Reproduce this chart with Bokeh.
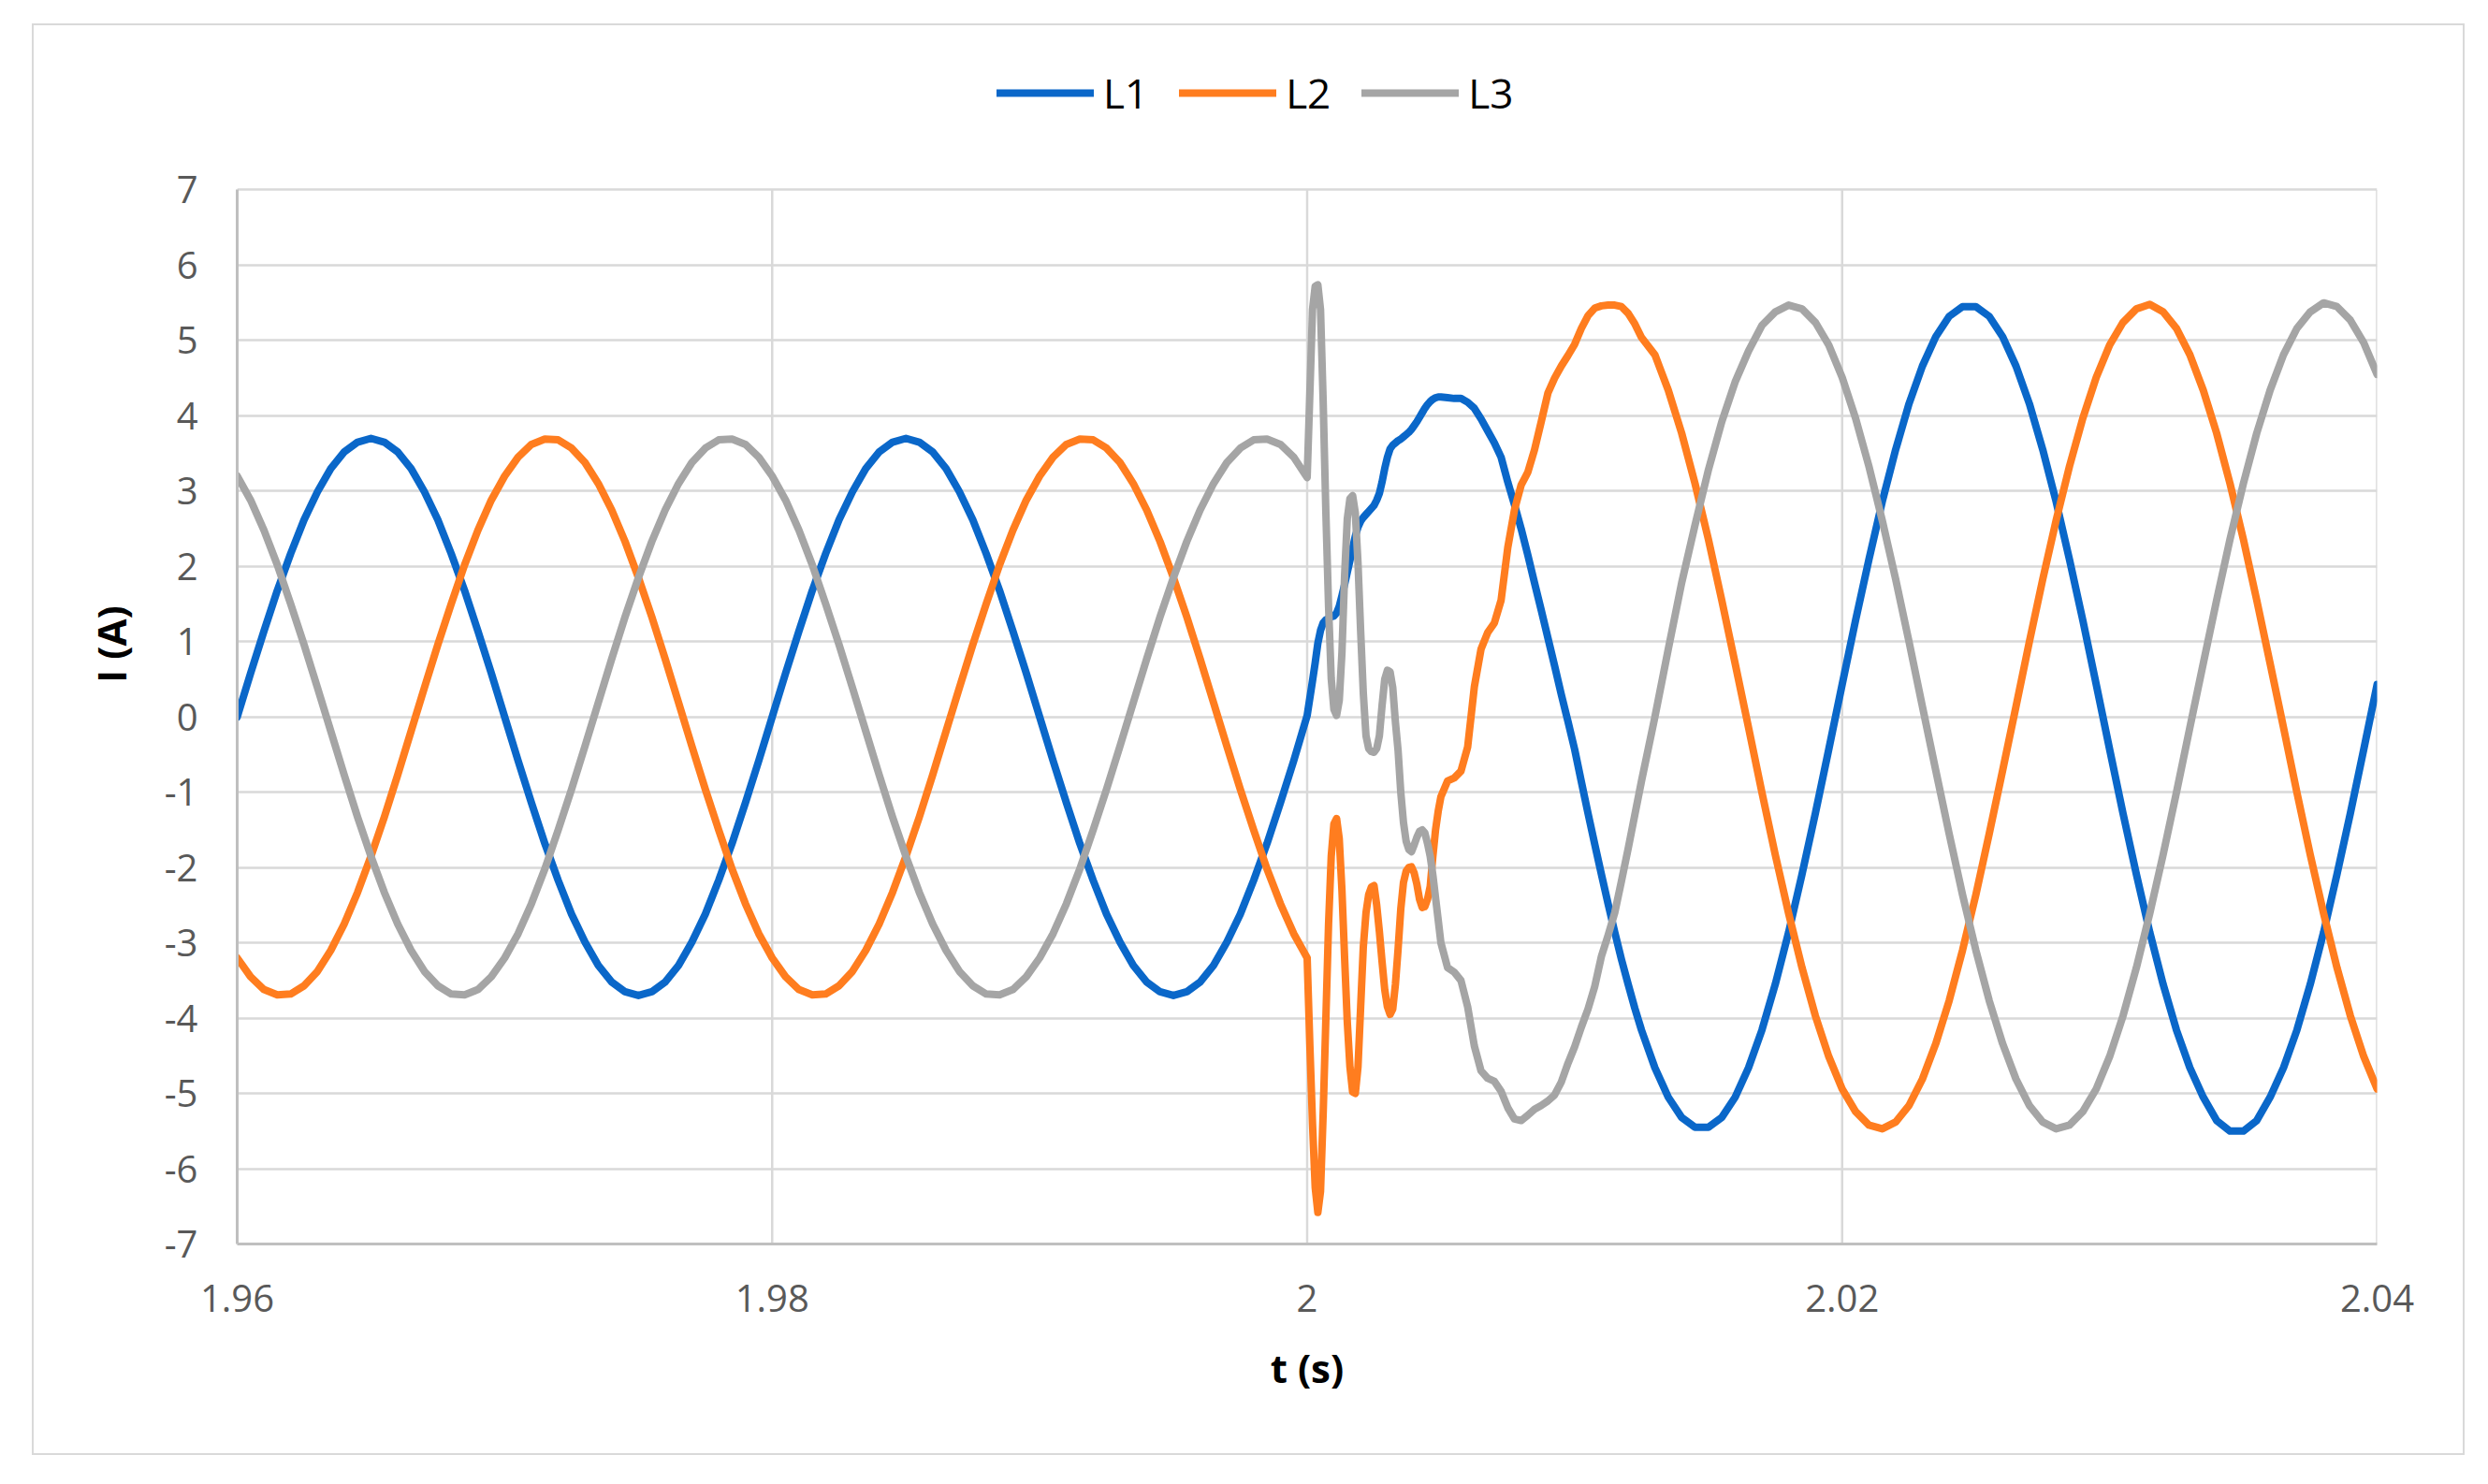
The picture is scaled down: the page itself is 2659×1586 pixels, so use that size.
from bokeh.plotting import figure
from bokeh.models import FixedTicker, Legend, LegendItem, Spacer, ColumnDataSource
from bokeh.layouts import column, row
from bokeh.embed import file_html
from bokeh.resources import INLINE

# ---------------- data ----------------
# time samples, seconds
t_pre = [1.96, 1.9605, 1.961, 1.9615, 1.962, 1.9625, 1.963, 1.9635, 1.964, 1.9645,
         1.965, 1.9655, 1.966, 1.9665, 1.967, 1.9675, 1.968, 1.9685, 1.969, 1.9695,
         1.97, 1.9705, 1.971, 1.9715, 1.972, 1.9725, 1.973, 1.9735, 1.974, 1.9745,
         1.975, 1.9755, 1.976, 1.9765, 1.977, 1.9775, 1.978, 1.9785, 1.979, 1.9795,
         1.98, 1.9805, 1.981, 1.9815, 1.982, 1.9825, 1.983, 1.9835, 1.984, 1.9845,
         1.985, 1.9855, 1.986, 1.9865, 1.987, 1.9875, 1.988, 1.9885, 1.989, 1.9895,
         1.99, 1.9905, 1.991, 1.9915, 1.992, 1.9925, 1.993, 1.9935, 1.994, 1.9945,
         1.995, 1.9955, 1.996, 1.9965, 1.997, 1.9975, 1.998, 1.9985, 1.999, 1.9995,
         2.0]
t_fault = [2.0001, 2.0002, 2.0003, 2.0004, 2.0005, 2.0006, 2.0007, 2.0008, 2.0009, 2.001,
           2.0011, 2.0012, 2.0013, 2.0014, 2.0015, 2.0016, 2.0017, 2.0018, 2.0019, 2.002,
           2.0021, 2.0022, 2.0023, 2.0024, 2.0025, 2.0026, 2.0027, 2.0028, 2.0029, 2.003,
           2.0031, 2.0032, 2.0033, 2.0034, 2.0035, 2.0036, 2.0037, 2.0038, 2.0039, 2.004,
           2.0041, 2.0042, 2.0043, 2.0044, 2.0045, 2.0046, 2.0047, 2.0048, 2.0049, 2.005]
t_settle = [2.00525, 2.0055, 2.00575, 2.006, 2.00625, 2.0065, 2.00675, 2.007, 2.00725, 2.0075,
            2.00775, 2.008, 2.00825, 2.0085, 2.00875, 2.009, 2.00925, 2.0095, 2.00975, 2.01,
            2.01025, 2.0105, 2.01075, 2.011, 2.01125, 2.0115, 2.01175, 2.012, 2.01225, 2.0125]
t_post = [2.013, 2.0135, 2.014, 2.0145, 2.015, 2.0155, 2.016, 2.0165, 2.017, 2.0175,
          2.018, 2.0185, 2.019, 2.0195, 2.02, 2.0205, 2.021, 2.0215, 2.022, 2.0225,
          2.023, 2.0235, 2.024, 2.0245, 2.025, 2.0255, 2.026, 2.0265, 2.027, 2.0275,
          2.028, 2.0285, 2.029, 2.0295, 2.03, 2.0305, 2.031, 2.0315, 2.032, 2.0325,
          2.033, 2.0335, 2.034, 2.0345, 2.035, 2.0355, 2.036, 2.0365, 2.037, 2.0375,
          2.038, 2.0385, 2.039, 2.0395, 2.04]

# phase currents, A
l1_pre = [0, 0.58, 1.14, 1.68, 2.17, 2.62, 2.99, 3.30, 3.52, 3.65,
          3.70, 3.65, 3.52, 3.30, 2.99, 2.62, 2.17, 1.68, 1.14, 0.58,
          0, -0.58, -1.14, -1.68, -2.17, -2.62, -2.99, -3.30, -3.52, -3.65,
          -3.70, -3.65, -3.52, -3.30, -2.99, -2.62, -2.17, -1.68, -1.14, -0.58,
          0, 0.58, 1.14, 1.68, 2.17, 2.62, 2.99, 3.30, 3.52, 3.65,
          3.70, 3.65, 3.52, 3.30, 2.99, 2.62, 2.17, 1.68, 1.14, 0.58,
          0, -0.58, -1.14, -1.68, -2.17, -2.62, -2.99, -3.30, -3.52, -3.65,
          -3.70, -3.65, -3.52, -3.30, -2.99, -2.62, -2.17, -1.68, -1.14, -0.58,
          0.02]
l2_pre = [-3.20, -3.45, -3.62, -3.69, -3.68, -3.57, -3.38, -3.10, -2.75, -2.33,
          -1.85, -1.33, -0.77, -0.19, 0.39, 0.96, 1.50, 2.02, 2.48, 2.88,
          3.20, 3.45, 3.62, 3.69, 3.68, 3.57, 3.38, 3.10, 2.75, 2.33,
          1.85, 1.33, 0.77, 0.19, -0.39, -0.96, -1.50, -2.02, -2.48, -2.88,
          -3.20, -3.45, -3.62, -3.69, -3.68, -3.57, -3.38, -3.10, -2.75, -2.33,
          -1.85, -1.33, -0.77, -0.19, 0.39, 0.96, 1.50, 2.02, 2.48, 2.88,
          3.20, 3.45, 3.62, 3.69, 3.68, 3.57, 3.38, 3.10, 2.75, 2.33,
          1.85, 1.33, 0.77, 0.19, -0.39, -0.96, -1.50, -2.02, -2.48, -2.88,
          -3.20]
l3_pre = [3.20, 2.88, 2.48, 2.02, 1.50, 0.96, 0.39, -0.19, -0.77, -1.33,
          -1.85, -2.33, -2.75, -3.10, -3.38, -3.57, -3.68, -3.69, -3.62, -3.45,
          -3.20, -2.88, -2.48, -2.02, -1.50, -0.96, -0.39, 0.19, 0.77, 1.33,
          1.85, 2.33, 2.75, 3.10, 3.38, 3.57, 3.68, 3.69, 3.62, 3.45,
          3.20, 2.88, 2.48, 2.02, 1.50, 0.96, 0.39, -0.19, -0.77, -1.33,
          -1.85, -2.33, -2.75, -3.10, -3.38, -3.57, -3.68, -3.69, -3.62, -3.45,
          -3.20, -2.88, -2.48, -2.02, -1.50, -0.96, -0.39, 0.19, 0.77, 1.33,
          1.85, 2.33, 2.75, 3.10, 3.38, 3.57, 3.68, 3.69, 3.62, 3.45,
          3.18]

l1_fault = [0.25, 0.48, 0.72, 0.98, 1.15, 1.25, 1.29, 1.31, 1.33, 1.34,
            1.38, 1.47, 1.61, 1.76, 1.92, 2.08, 2.24, 2.40, 2.52, 2.60,
            2.65, 2.69, 2.73, 2.77, 2.81, 2.88, 2.97, 3.12, 3.30, 3.45,
            3.56, 3.61, 3.64, 3.67, 3.69, 3.72, 3.75, 3.78, 3.82, 3.87,
            3.92, 3.98, 4.04, 4.10, 4.15, 4.19, 4.22, 4.24, 4.25, 4.25]
l2_fault = [-4.35, -5.40, -6.25, -6.58, -6.30, -5.25, -4.00, -2.75, -1.85, -1.42,
            -1.35, -1.62, -2.30, -3.20, -4.05, -4.65, -4.98, -5.00, -4.65, -3.85,
            -3.05, -2.60, -2.36, -2.26, -2.24, -2.50, -2.85, -3.25, -3.62, -3.85,
            -3.95, -3.88, -3.55, -3.08, -2.55, -2.20, -2.05, -2.00, -1.99, -2.07,
            -2.22, -2.42, -2.53, -2.52, -2.42, -2.25, -1.85, -1.50, -1.25, -1.06]
l3_fault = [4.29, 5.41, 5.72, 5.74, 5.41, 4.17, 2.71, 1.47, 0.51, 0.10,
            0.02, 0.22, 0.85, 1.88, 2.63, 2.90, 2.94, 2.71, 2.05, 1.14,
            0.31, -0.25, -0.42, -0.46, -0.47, -0.42, -0.25, 0.15, 0.50, 0.62,
            0.60, 0.39, -0.07, -0.45, -1.00, -1.40, -1.65, -1.76, -1.79, -1.70,
            -1.60, -1.52, -1.50, -1.54, -1.68, -1.85, -2.10, -2.40, -2.70, -3.00]

l1_settle = [4.24, 4.23, 4.23, 4.18, 4.10, 3.96, 3.80, 3.64, 3.45, 3.12,
             2.82, 2.50, 2.15, 1.78, 1.42, 1.05, 0.68, 0.30, -0.06, -0.43,
             -0.86, -1.28, -1.69, -2.09, -2.48, -2.86, -3.22, -3.55, -3.87, -4.16]
l2_settle = [-0.85, -0.81, -0.72, -0.40, 0.40, 0.90, 1.12, 1.25, 1.55, 2.25,
             2.75, 3.08, 3.25, 3.55, 3.92, 4.30, 4.50, 4.66, 4.80, 4.95,
             5.16, 5.33, 5.43, 5.46, 5.47, 5.47, 5.45, 5.36, 5.22, 5.04]
l3_settle = [-3.33, -3.39, -3.50, -3.85, -4.37, -4.70, -4.80, -4.84, -4.97, -5.19,
             -5.34, -5.36, -5.29, -5.21, -5.16, -5.10, -5.02, -4.85, -4.60, -4.38,
             -4.12, -3.88, -3.58, -3.18, -2.90, -2.60, -2.18, -1.75, -1.30, -0.85]

l1_post = [-4.66, -5.05, -5.32, -5.45, -5.45, -5.32, -5.05, -4.66, -4.16, -3.55,
           -2.86, -2.09, -1.28, -0.43, 0.43, 1.28, 2.09, 2.86, 3.55, 4.16,
           4.66, 5.05, 5.32, 5.45, 5.45, 5.32, 5.05, 4.66, 4.16, 3.55,
           2.86, 2.09, 1.28, 0.43, -0.43, -1.28, -2.09, -2.86, -3.55, -4.16,
           -4.66, -5.05, -5.36, -5.50, -5.50, -5.36, -5.05, -4.66, -4.16, -3.55,
           -2.86, -2.09, -1.28, -0.43, 0.43]
l2_post = [4.81, 4.34, 3.77, 3.10, 2.36, 1.55, 0.71, -0.14, -1.00, -1.83,
           -2.61, -3.33, -3.97, -4.51, -4.94, -5.24, -5.42, -5.47, -5.38, -5.16,
           -4.81, -4.34, -3.77, -3.10, -2.36, -1.55, -0.71, 0.14, 1.00, 1.83,
           2.61, 3.33, 3.97, 4.51, 4.94, 5.24, 5.42, 5.48, 5.38, 5.16,
           4.81, 4.34, 3.77, 3.10, 2.36, 1.55, 0.71, -0.14, -1.00, -1.83,
           -2.61, -3.33, -3.97, -4.51, -4.94]
l3_post = [0.00, 0.90, 1.78, 2.55, 3.28, 3.92, 4.45, 4.86, 5.20, 5.38,
           5.47, 5.42, 5.24, 4.94, 4.51, 3.97, 3.33, 2.61, 1.83, 1.00,
           0.14, -0.71, -1.55, -2.36, -3.10, -3.77, -4.34, -4.81, -5.16, -5.38,
           -5.47, -5.42, -5.24, -4.94, -4.51, -3.97, -3.33, -2.61, -1.83, -1.00,
           -0.14, 0.71, 1.55, 2.36, 3.10, 3.77, 4.34, 4.81, 5.16, 5.38,
           5.50, 5.45, 5.27, 4.97, 4.55]

series_names = ["L1", "L2", "L3"]
series_colors = ["#0A67C9", "#FF7D1F", "#A5A5A5"]
x_ticks = [1.96, 1.98, 2.0, 2.02, 2.04]
y_ticks = [-7, -6, -5, -4, -3, -2, -1, 0, 1, 2, 3, 4, 5, 6, 7]
y_tick_labels = ["-7", "-6", "-5", "-4", "-3", "-2", "-1", "0", "1", "2", "3", "4", "5", "6", "7"]

t = t_pre + t_fault + t_settle + t_post
l1 = l1_pre + l1_fault + l1_settle + l1_post
l2 = l2_pre + l2_fault + l2_settle + l2_post
l3 = l3_pre + l3_fault + l3_settle + l3_post
for name, arr in (("l1", l1), ("l2", l2), ("l3", l3)):
    if len(arr) != len(t):
        raise ValueError(f"{name} has {len(arr)} values, t has {len(t)}")

source = ColumnDataSource(data=dict(t=t, L1=l1, L2=l2, L3=l3))

# ---------------- figure ----------------
# The frame is extended upward (y up to ~8.93) so the legend strip above the
# -7..7 plot area lies inside the frame; grid and axis lines stop at -7..7.
Y_MIN, Y_MAX = y_ticks[0], y_ticks[-1]
Y_TOP = 8.932
p = figure(frame_width=2283, frame_height=1278,
           x_range=(x_ticks[0], x_ticks[-1]), y_range=(Y_MIN, Y_TOP),
           output_backend="svg", toolbar_location=None,
           min_border_left=217, min_border_right=96,
           min_border_top=20, min_border_bottom=228,
           background_fill_color="white", border_fill_color="white")
p.styles = {"border": "2px solid #d9d9d9"}
p.outline_line_color = None

p.xaxis.ticker = FixedTicker(ticks=x_ticks)
p.yaxis.ticker = FixedTicker(ticks=y_ticks)
p.yaxis.major_label_overrides = {v: s for v, s in zip(y_ticks, y_tick_labels)}
p.yaxis.bounds = (Y_MIN, Y_MAX)

# horizontal grid from the axis ticks; vertical grid lines only over -7..7
p.ygrid.ticker = FixedTicker(ticks=y_ticks)
p.ygrid.grid_line_color = "#d9d9d9"
p.ygrid.grid_line_width = 2.5
p.xgrid.visible = False
p.segment(x0=x_ticks, y0=[Y_MIN] * len(x_ticks), x1=x_ticks, y1=[Y_MAX] * len(x_ticks),
          line_color="#d9d9d9", line_width=2.5, level="underlay")

for ax in (p.xaxis, p.yaxis):
    ax.axis_line_color = "#bfbfbf"
    ax.axis_line_width = 3
    ax.major_tick_line_color = None
    ax.minor_tick_line_color = None
    ax.major_tick_out = 0
    ax.major_tick_in = 0
    ax.major_label_text_font = "Open Sans"
    ax.major_label_text_font_size = "40px"
    ax.major_label_text_color = "#595959"
    ax.axis_label_text_font = "Open Sans"
    ax.axis_label_text_font_style = "bold"
    ax.axis_label_text_font_size = "42px"
    ax.axis_label_text_color = "#000000"

p.xaxis.axis_label = "t (s)"
p.yaxis.axis_label = "I (A)"
p.xaxis.major_label_standoff = 43
p.xaxis.axis_label_standoff = 28
p.yaxis.major_label_standoff = 42
p.yaxis.axis_label_standoff = 26

renderers = []
for name, color in zip(series_names, series_colors):
    r = p.line("t", name, source=source, line_color=color, line_width=8,
               line_join="round", line_cap="round")
    renderers.append(r)

legend = Legend(items=[LegendItem(label=n, renderers=[r]) for n, r in zip(series_names, renderers)],
                orientation="horizontal", location=(812, 1200),
                glyph_width=104, glyph_height=60, label_height=60,
                label_standoff=10, spacing=33, padding=0, margin=0,
                border_line_color=None, background_fill_alpha=0,
                label_text_font="Open Sans", label_text_font_size="44px",
                label_text_color="#000000")
p.add_layout(legend)

layout = column(Spacer(height=25), row(Spacer(width=34), p))

with open("out.html", "w") as f:
    f.write(file_html(layout, INLINE))
